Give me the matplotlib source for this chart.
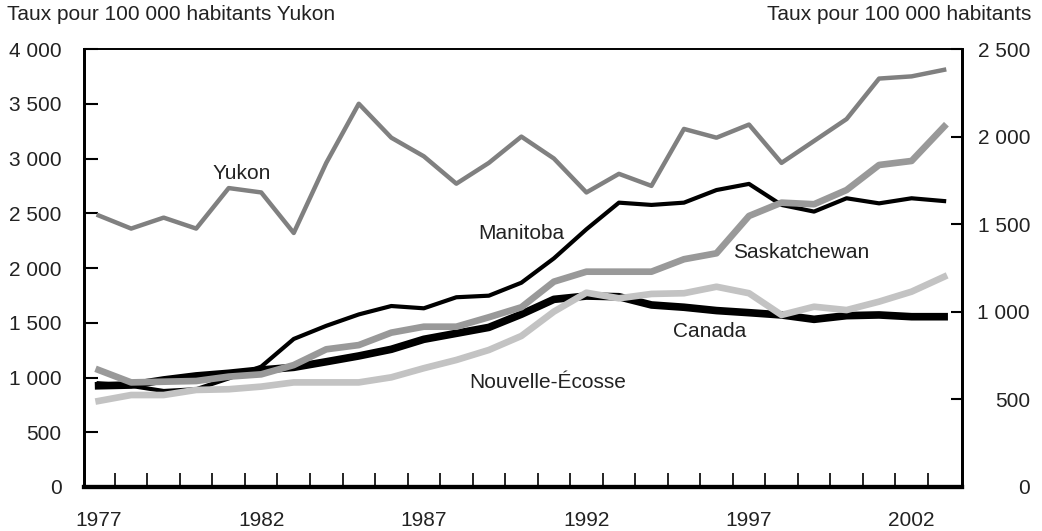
import matplotlib
matplotlib.use('Agg')
import matplotlib.pyplot as plt
from matplotlib.ticker import FuncFormatter

plt.rcParams['font.family'] = ['Liberation Sans', 'DejaVu Sans']

years = list(range(1977, 2004))
yukon = [2480, 2360, 2460, 2360, 2730, 2690, 2320, 2960, 3500, 3190, 3020, 2770, 2960, 3200,
         3000, 2690, 2860, 2750, 3270, 3190, 3310, 2960, 3160, 3360, 3730, 3750, 3810]
canada = [578, 582, 611, 634, 649, 668, 683, 715, 748, 786, 843, 877, 911, 986,
          1071, 1090, 1086, 1039, 1026, 1007, 995, 982, 957, 978, 982, 972, 972]
manitoba = [592, 577, 548, 558, 620, 687, 845, 920, 985, 1033, 1020, 1083, 1092, 1166,
            1305, 1471, 1623, 1610, 1623, 1695, 1730, 1610, 1572, 1648, 1619, 1648, 1632]
saskatchewan = [668, 597, 601, 605, 630, 643, 696, 786, 810, 881, 915, 915, 969, 1026,
                1172, 1229, 1229, 1229, 1300, 1334, 1547, 1623, 1614, 1695, 1838, 1861, 2057]
nouvelle_ecosse = [491, 525, 525, 554, 558, 573, 597, 597, 597, 626, 678, 725, 782, 862,
                   1001, 1109, 1077, 1102, 1106, 1143, 1106, 982, 1029, 1010, 1058, 1115, 1200]

left_ticks = [0, 500, 1000, 1500, 2000, 2500, 3000, 3500, 4000]
right_ticks = [0, 500, 1000, 1500, 2000, 2500]
year_labels = [1977, 1982, 1987, 1992, 1997, 2002]
minor_ticks = [y + 0.5 for y in range(1977, 2003)]

txt = '#222222'
fs = 15


def sep(v, pos):
    return f'{int(v):,}'.replace(',', ' ')


fig = plt.figure(figsize=(10.42, 5.31), dpi=100)
ax = fig.add_axes([84 / 1042, 44 / 531, 878 / 1042, 438 / 531])
ax2 = ax.twinx()

ax.plot(years, yukon, color='#808080', lw=3.2)
ax2.plot(years, canada, color='black', lw=5.5)
ax2.plot(years, manitoba, color='black', lw=3)
ax2.plot(years, saskatchewan, color='#999999', lw=4.8)
ax2.plot(years, nouvelle_ecosse, color='#c3c3c3', lw=4.8)

ax.set_xlim(1976.55, 2003.55)
ax.set_ylim(0, 4000)
ax2.set_ylim(0, 2500)

ax.set_yticks(left_ticks)
ax.yaxis.set_major_formatter(FuncFormatter(sep))
ax2.set_yticks(right_ticks)
ax2.yaxis.set_major_formatter(FuncFormatter(sep))

ax.set_xticks(year_labels)
ax.set_xticks(minor_ticks, minor=True)
ax.tick_params(axis='x', which='major', length=0, pad=17, labelsize=fs, labelcolor=txt)
ax.tick_params(axis='x', which='minor', direction='in', length=10, width=1.2)
ax.tick_params(axis='y', direction='in', length=10, width=1.5, pad=16, labelsize=fs, labelcolor=txt)
ax2.tick_params(axis='y', direction='in', length=8, width=1.5, pad=49, labelsize=fs, labelcolor=txt)
for lab in ax2.get_yticklabels():
    lab.set_horizontalalignment('right')

for a in (ax, ax2):
    a.spines['top'].set_linewidth(1.2)
    a.spines['left'].set_linewidth(2)
    a.spines['right'].set_linewidth(2)
    a.spines['bottom'].set_linewidth(3)

fig.text(7 / 1042, 1 - 14 / 531, 'Taux pour 100 000 habitants Yukon', fontsize=fs,
         color=txt, ha='left', va='center')
fig.text(1031 / 1042, 1 - 14 / 531, 'Taux pour 100 000 habitants', fontsize=fs,
         color=txt, ha='right', va='center')

ax.text(1981.4, 2860, 'Yukon', fontsize=fs, color=txt, ha='center', va='center')
ax2.text(1990.0, 1448, 'Manitoba', fontsize=fs, color=txt, ha='center', va='center')
ax2.text(1998.6, 1338, 'Saskatchewan', fontsize=fs, color=txt, ha='center', va='center')
ax2.text(1995.8, 885, 'Canada', fontsize=fs, color=txt, ha='center', va='center')
ax2.text(1990.8, 597, 'Nouvelle-Écosse', fontsize=fs, color=txt, ha='center', va='center')

fig.savefig('out.png', dpi=100)
